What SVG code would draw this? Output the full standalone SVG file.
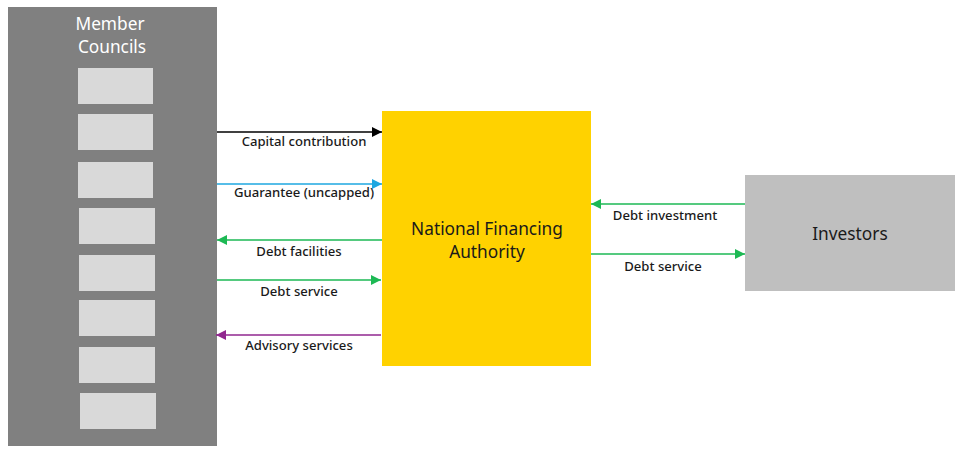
<svg xmlns="http://www.w3.org/2000/svg" width="964" height="454" viewBox="0 0 964 454">
<defs>
<style>
.lbl{font-family:"Noto Sans","Liberation Sans",sans-serif;font-size:13.1px;font-weight:500;fill:#1a1a1a;text-anchor:middle}
.big{font-family:"Noto Sans","Liberation Sans",sans-serif;font-size:17.3px;fill:#1a1a1a;text-anchor:middle}
.cell{fill:#D9D9D9}
.ln{stroke-width:1.5;fill:none}
</style>
<marker id="aK" viewBox="0 0 10 10" refX="10" refY="5" markerWidth="10" markerHeight="10" markerUnits="userSpaceOnUse" orient="auto"><path d="M0,0L10,5L0,10z" fill="#000"/></marker>
<marker id="aB" viewBox="0 0 10 10" refX="10" refY="5" markerWidth="10" markerHeight="10" markerUnits="userSpaceOnUse" orient="auto"><path d="M0,0L10,5L0,10z" fill="#1EA7E1"/></marker>
<marker id="aG" viewBox="0 0 10 10" refX="10" refY="5" markerWidth="10" markerHeight="10" markerUnits="userSpaceOnUse" orient="auto"><path d="M0,0L10,5L0,10z" fill="#1DB954"/></marker>
<marker id="aP" viewBox="0 0 10 10" refX="10" refY="5" markerWidth="10" markerHeight="10" markerUnits="userSpaceOnUse" orient="auto"><path d="M0,0L10,5L0,10z" fill="#91278F"/></marker>
</defs>
<rect width="964" height="454" fill="#fff"/>
<g id="member-councils">
<rect x="8" y="7" width="209" height="439" fill="#808080"/>
<text x="110" y="30" class="big" style="fill:#fff">Member</text>
<text x="112" y="53" class="big" style="fill:#fff">Councils</text>
<rect class="cell" x="78" y="68" width="75" height="36"/>
<rect class="cell" x="78" y="114" width="75" height="36"/>
<rect class="cell" x="78" y="162" width="75" height="36"/>
<rect class="cell" x="79" y="208" width="76" height="36"/>
<rect class="cell" x="79" y="255" width="76" height="36"/>
<rect class="cell" x="79" y="300" width="76" height="36"/>
<rect class="cell" x="79" y="347" width="76" height="36"/>
<rect class="cell" x="80" y="393" width="76" height="36"/>
</g>
<g id="nfa">
<rect x="382" y="111" width="209" height="255" fill="#FFD200"/>
<text x="487" y="235" class="big">National Financing</text>
<text x="487" y="258" class="big">Authority</text>
</g>
<g id="investors">
<rect x="745" y="175" width="210" height="116" fill="#BFBFBF"/>
<text x="850" y="240" class="big">Investors</text>
</g>
<g id="connectors">
<line class="ln" x1="217" y1="132" x2="382" y2="132" stroke="#000" marker-end="url(#aK)"/>
<line class="ln" x1="217" y1="184" x2="382" y2="184" stroke="#1EA7E1" marker-end="url(#aB)"/>
<line class="ln" x1="382" y1="240" x2="217" y2="240" stroke="#1DB954" marker-end="url(#aG)"/>
<line class="ln" x1="217" y1="280" x2="381" y2="280" stroke="#1DB954" marker-end="url(#aG)"/>
<line class="ln" x1="381" y1="335" x2="216" y2="335" stroke="#91278F" marker-end="url(#aP)"/>
<line class="ln" x1="745" y1="204" x2="591" y2="204" stroke="#1DB954" marker-end="url(#aG)"/>
<line class="ln" x1="591" y1="254" x2="745" y2="254" stroke="#1DB954" marker-end="url(#aG)"/>
<text x="304" y="146" class="lbl">Capital contribution</text>
<text x="304" y="197" class="lbl">Guarantee (uncapped)</text>
<text x="299" y="256" class="lbl">Debt facilities</text>
<text x="299" y="296" class="lbl">Debt service</text>
<text x="299" y="350" class="lbl">Advisory services</text>
<text x="665" y="220" class="lbl">Debt investment</text>
<text x="663" y="271" class="lbl">Debt service</text>
</g>
</svg>
